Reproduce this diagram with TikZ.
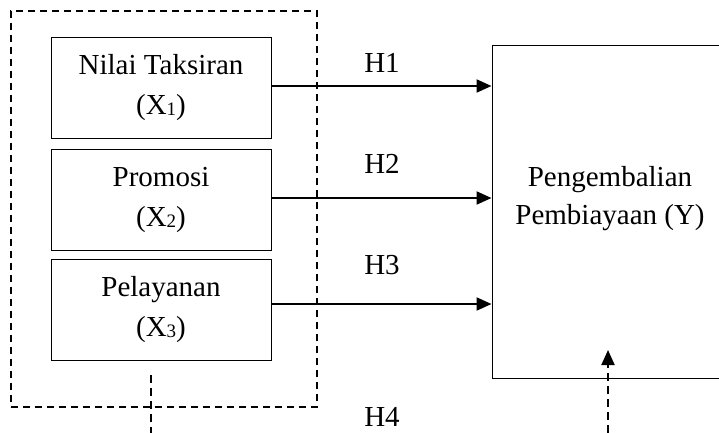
\documentclass[tikz,border=0pt]{standalone}
\usepackage{fontspec}
\setmainfont{Liberation Serif}
\usetikzlibrary{arrows.meta}

\newcommand{\subdigit}[1]{\raisebox{-1pt}{\fontsize{19}{19}\selectfont #1}}

\tikzset{
  varbox/.style={draw, line width=1pt, minimum width=220pt, minimum height=101pt,
    inner sep=0pt, align=center, font=\fontsize{29}{40}\selectfont},
  hyplabel/.style={font=\fontsize{29}{34}\selectfont, inner sep=0pt},
  grouping/.style={draw, dashed, dash pattern=on 7pt off 5pt, line width=1.6pt,
    minimum width=306pt, minimum height=396pt, inner sep=0pt},
  effect/.style={line width=2.2pt, -{Triangle[length=15pt,width=13pt]}},
  dashlink/.style={line width=2pt, dash pattern=on 8pt off 5pt}
}

\begin{document}
\begin{tikzpicture}[x=1pt, y=-1pt]
  \useasboundingbox (0,0) rectangle (719,433);

  % dashed frame around the independent variables
  \node[grouping] (group) at (164,209) {};

  % independent variables
  \node[varbox] (x1) at (161,88) {Nilai Taksiran\\(X\subdigit{1})};
  \node[varbox] (x2) at (161,199.5) {Promosi\\(X\subdigit{2})};
  \node[varbox] (x3) at (161,310) {Pelayanan\\(X\subdigit{3})};

  % dependent variable
  \node[draw, line width=1pt, minimum width=230pt, minimum height=332pt, inner sep=0pt]
    (y) at (607,212) {};
  \node[align=center, font=\fontsize{29}{38}\selectfont, inner sep=0pt]
    (ytext) at (610,199) {Pengembalian\\Pembiayaan (Y)};

  % partial effects
  \draw[effect] ([yshift=2pt]x1.east) -- ([yshift=2pt]x1.east -| y.west);
  \draw[effect] ([yshift=1.5pt]x2.east) -- ([yshift=1.5pt]x2.east -| y.west);
  \draw[effect] ([yshift=6pt]x3.east) -- ([yshift=6pt]x3.east -| y.west);

  % hypothesis labels
  \node[hyplabel] (h1) at (382,63) {H1};
  \node[hyplabel] (h2) at (382,164) {H2};
  \node[hyplabel] (h3) at (382,265) {H3};
  \node[hyplabel] (h4) at (382,417) {H4};

  % simultaneous effect
  \coordinate (gstart) at (151,375);
  \coordinate (gend) at (151,433);
  \draw[dashlink] (gstart) -- (gend);
  \coordinate (ystart) at (608,433);
  \coordinate (ytip) at (608,350);
  \draw[dashlink, -{Triangle[length=15pt,width=13pt]}] (ystart) -- (ytip);
\end{tikzpicture}
\end{document}
